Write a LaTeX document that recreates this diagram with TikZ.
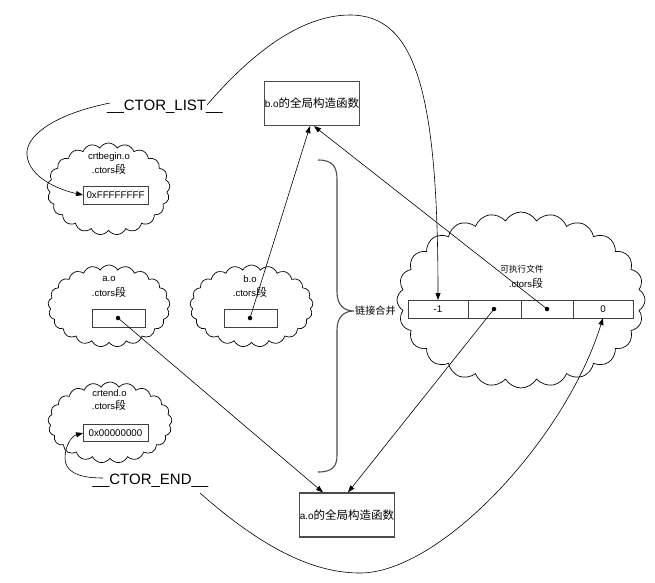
\documentclass[tikz,border=0pt]{standalone}
\usepackage{fontspec}
\setmainfont{Liberation Sans}
\newfontfamily\cjk[Scale=1.15]{Noto Sans CJK SC}
\usetikzlibrary{shapes.symbols,arrows.meta}
\begin{document}
\begin{tikzpicture}[x=1pt,y=-1pt,
 cl/.style={draw, cloud, cloud puffs=21, cloud puff arc=120, cloud ignores aspect, inner sep=0pt, line width=0.7pt},
 bx/.style={draw=black!75, line width=1pt, inner sep=0pt, outer sep=0pt, minimum height=18pt, font=\fontsize{9.75}{11}\selectfont},
 fn/.style={draw=black!70, line width=1.2pt, inner sep=0pt, minimum width=88pt, minimum height=44pt, font=\fontsize{10}{12}\selectfont},
 lbl/.style={font=\fontsize{9.5}{11}\selectfont, inner sep=0pt},
 big/.style={font=\fontsize{15}{18}\selectfont, inner sep=0pt, anchor=base},
 arr/.style={-{Triangle[length=7pt,width=5pt]}, line width=0.6pt},
 dot/.style={circle, fill, inner sep=0pt, minimum size=4.5pt},
]
\useasboundingbox (0,0) rectangle (655,582);

% clouds
\node[cl, minimum width=123pt, minimum height=92pt] (cbeg) at (108.5,189) {};
\node[cl, minimum width=122pt, minimum height=82pt] (cao) at (109,306) {};
\node[cl, minimum width=123pt, minimum height=82pt] (cbo) at (251.5,306) {};
\node[cl, minimum width=124pt, minimum height=81pt] (cend) at (110,422.5) {};
\node[cl, cloud puffs=24, minimum width=248pt, minimum height=176pt] (cexe) at (521,300) {};

% cloud labels
\node[lbl] (tb1) at (109,157) {crtbegin.o};
\node[lbl] (tb2) at (109,169) {.ctors{\cjk 段}};
\node[lbl] (ta1) at (109,279) {a.o};
\node[lbl] (ta2) at (109,292) {.ctors{\cjk 段}};
\node[lbl] (tbo1) at (250,279) {b.o};
\node[lbl] (tbo2) at (250,292) {.ctors{\cjk 段}};
\node[lbl] (te1) at (109.5,393) {crtend.o};
\node[lbl] (te2) at (109,405) {.ctors{\cjk 段}};
\node[lbl] (tx1) at (522,269) {\fontsize{7.5}{9}\selectfont\cjk 可执行文件};
\node[lbl] (tx2) at (526,283) {.ctors{\cjk 段}};

% boxes in clouds
\node[bx, minimum width=65pt] (hexF) at (115.5,195) {0xFFFFFFFF};
\node[bx, minimum width=53pt] (boxa) at (118.5,318) {};
\node[bx, minimum width=53pt] (boxb) at (250.5,318) {};
\node[bx, minimum width=65pt, minimum height=17pt] (hex0) at (115.5,433) {0x00000000};
\node[dot] (da) at (118,318) {};
\node[dot] (db) at (250,318) {};

% exe cells
\node[bx, minimum width=60pt] (c1) at (438,309) {-1};
\node[bx, minimum width=53pt] (c2) at (494.5,309) {};
\node[bx, minimum width=52pt] (c3) at (547,309) {};
\node[bx, minimum width=60pt] (c4) at (603,309) {0};
\node[dot] (d2) at (494,309) {};
\node[dot] (d3) at (547,309) {};

% function boxes
\node[fn] (bfun) at (312,103.5) {b.o{\cjk 的全局构造函数}};
\node[fn] (afun) at (347,515) {a.o{\cjk 的全局构造函数}};

% big labels
\node[big] (clist) at (165,110) {\_\_CTOR\_LIST\_\_};
\node[big] (cendl) at (150.5,484) {\_\_CTOR\_END\_\_};

% brace
\draw[black!70, line width=1.1pt] (318,160) .. controls (333,160) and (337,167) .. (337,180) -- (337,292)
  .. controls (337,305) and (344,311) .. (354,311)
  .. controls (344,311) and (337,317) .. (337,330) -- (337,455)
  .. controls (337,466) and (333,472) .. (318,472);
\node[inner sep=0pt, anchor=west, font=\fontsize{8.8}{10}\selectfont] (merge) at (355,311) {\cjk 链接合并};

% connectors
\coordinate (ls) at (207,105);
\coordinate (lls) at (110,103);
\coordinate (les) at (103,478);
\coordinate (bes) at (200,493);

\draw[arr] (db.center) -- ([xshift=-2pt]bfun.south);
\draw[arr] (d3.center) -- ([xshift=2pt]bfun.south);
\draw[arr] (da.center) -- ([xshift=-24pt]afun.north);
\draw[arr] (d2.center) -- ([xshift=1pt]afun.north);

\draw[arr] (ls) .. controls (250,55) and (300,15) .. (350,15)
  .. controls (415,15) and (438,90) .. (c1.north);
\draw[arr] (lls) .. controls (50,115) and (25,138) .. (27,155)
  .. controls (29,178) and (60,190) .. (hexF.west);
\draw[arr] (les) .. controls (75,478) and (65,470) .. (65,458)
  .. controls (65,445) and (72,436) .. (hex0.west);
\draw[arr] (bes) .. controls (270,555) and (320,573) .. (360,573)
  .. controls (440,573) and (565,440) .. (c4.south);
\end{tikzpicture}
\end{document}
